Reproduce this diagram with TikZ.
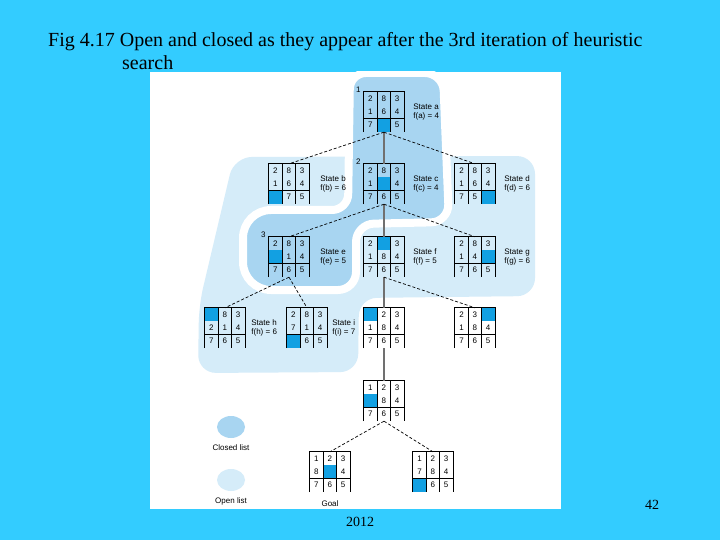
\documentclass[tikz,border=0pt]{standalone}
\usepackage{fontspec}
\setmainfont{Liberation Serif}
\newfontfamily\figfont{Liberation Sans}
\usetikzlibrary{calc,positioning,shapes.geometric}

\definecolor{slidebg}{RGB}{51,204,255}
\definecolor{closedblue}{RGB}{168,213,241}
\definecolor{openblue}{RGB}{213,236,249}
\definecolor{blankblue}{RGB}{18,160,226}
\definecolor{treegray}{RGB}{112,112,112}

% one 8-puzzle board: name, centre, nine tiles (0 = blank)
\newcommand{\puzzle}[3]{%
  \node[board] (#1) at (#2) {};
  \foreach \pz [count=\k from 0] in {#3} {
    \pgfmathtruncatemacro{\prow}{int(\k/3)}
    \pgfmathtruncatemacro{\pcol}{mod(\k,3)}
    \ifnum\pz=0
      \fill[blank] ($(#1.north west)+(\pcol*13.33,\prow*13.33)$) rectangle +(13.33,13.33);
    \else
      \node[tile] (#1-\k) at ($(#1.north west)+(\pcol*13.33+6.67,\prow*13.33+6.67)$) {\pz};
    \fi
  }
  \draw[gridline] (#1.south west) -- (#1.north west) -- (#1.north east) -- (#1.south east)
    ($(#1.north west)+(13.33,0)$) -- +(0,40)
    ($(#1.north west)+(26.67,0)$) -- +(0,40)
    ($(#1.north west)+(0,26.67)$) -- +(40,0);
}

\begin{document}
\begin{tikzpicture}[x=1pt, y=-1pt,
  board/.style={rectangle, inner sep=0pt, minimum size=40pt},
  tile/.style={inner sep=0pt, font=\figfont\fontsize{8}{9}\selectfont},
  blank/.style={fill=blankblue},
  gridline/.style={line width=0.8pt},
  statetxt/.style={align=left, inner sep=0pt, font=\figfont\fontsize{8}{9}\selectfont},
  keytxt/.style={inner sep=0pt, font=\figfont\fontsize{8}{9}\selectfont},
  keyblob/.style={ellipse, inner sep=0pt, minimum width=28pt, minimum height=22pt},
  solidedge/.style={treegray, line width=1.5pt},
  dashedge/.style={line width=0.7pt, dash pattern=on 3pt off 2pt},
  slidetxt/.style={inner sep=0pt, anchor=base west}]

\useasboundingbox (0,0) rectangle (720,540);
\fill[slidebg] (0,0) rectangle (720,540);
\fill[white] (150,72) rectangle (561,509);

%Lists
\begin{scope}
\clip (150,72) rectangle (561,509);
\fill[openblue, rounded corners=18pt] (234,157) -- (535,156) -- (535,296) -- (359,298) -- (358,372) -- (198,373) -- (199,305) -- cycle;
\filldraw[fill=closedblue, draw=white, line width=8pt, rounded corners=18pt] (350,73) -- (443,73) -- (449,222) -- (356,224) -- (356,290) [rounded corners=28pt] -- (243,290) -- (243,210) [rounded corners=16pt] -- (348,210) -- cycle;
\end{scope}
\node[keyblob, fill=closedblue] (closedkey) at (231,427) {};
\node[keytxt, below=6pt of closedkey] (closedtxt) {Closed list};
\node[keyblob, fill=openblue] (openkey) at (231,480) {};
\node[keytxt, below=6pt of openkey] (opentxt) {Open list};

%Nodes
\puzzle{sa}{384,112}{2,8,3,1,6,4,7,0,5}
\puzzle{sb}{289,184}{2,8,3,1,6,4,0,7,5}
\puzzle{sc}{384,184}{2,8,3,1,0,4,7,6,5}
\puzzle{sd}{475,184}{2,8,3,1,6,4,7,5,0}
\puzzle{se}{289,257}{2,8,3,0,1,4,7,6,5}
\puzzle{sf}{384,257}{2,0,3,1,8,4,7,6,5}
\puzzle{sg}{475,257}{2,8,3,1,4,0,7,6,5}
\puzzle{sh}{225,328}{0,8,3,2,1,4,7,6,5}
\puzzle{si}{307,328}{2,8,3,7,1,4,0,6,5}
\puzzle{sj}{384,328}{0,2,3,1,8,4,7,6,5}
\puzzle{sk}{475,328}{2,3,0,1,8,4,7,6,5}
\puzzle{sl}{384,401}{1,2,3,0,8,4,7,6,5}
\puzzle{goal}{330,472}{1,2,3,8,0,4,7,6,5}
\puzzle{sm}{433,472}{1,2,3,7,8,4,0,6,5}

\node[statetxt, right=9pt of sa]  (tsa) {State a\\f(a) = 4};
\node[statetxt, right=11pt of sb] (tsb) {State b\\f(b) = 6};
\node[statetxt, right=9pt of sc]  (tsc) {State c\\f(c) = 4};
\node[statetxt, right=9pt of sd]  (tsd) {State d\\f(d) = 6};
\node[statetxt, right=11pt of se] (tse) {State e\\f(e) = 5};
\node[statetxt, right=9pt of sf]  (tsf) {State f\\f(f) = 5};
\node[statetxt, right=9pt of sg]  (tsg) {State g\\f(g) = 6};
\node[statetxt, right=6pt of sh]  (tsh) {State h\\f(h) = 6};
\node[statetxt, right=5pt of si]  (tsi) {State i\\f(i) = 7};
\node[keytxt, below=8pt of goal]  (tgoal) {Goal};

\node[keytxt, left=3pt of sa.north west, yshift=2pt] (na) {1};
\node[keytxt, left=3pt of sc.north west, yshift=2pt] (nc) {2};
\node[keytxt, left=3pt of se.north west, yshift=2pt] (ne) {3};

%Lines
\draw[solidedge] (sa.south) -- (sc.north);
\draw[solidedge] (sc.south) -- (sf.north);
\draw[solidedge] (sf.south) -- (sj.north);
\draw[solidedge] (sj.south) -- (sl.north);
\draw[dashedge] (sa.south) -- (sb.north);
\draw[dashedge] (sa.south) -- (sd.north);
\draw[dashedge] (sc.south) -- (se.north);
\draw[dashedge] (sc.south) -- (sg.north);
\draw[dashedge] (se.south) -- (sh.north);
\draw[dashedge] (se.south) -- (si.north);
\draw[dashedge] (sf.south) -- (sk.north);
\draw[dashedge] (sl.south) -- (goal.north);
\draw[dashedge] (sl.south) -- (sm.north);

%Slide text
\node[slidetxt, font=\fontsize{20}{24}\selectfont] (title) at (48,47) {Fig 4.17 Open and closed as they appear after the 3rd iteration of heuristic};
\node[slidetxt, font=\fontsize{20}{24}\selectfont] (titlemore) at (122,70) {search};
\node[slidetxt, anchor=base, font=\fontsize{14}{16}\selectfont] (year) at (360,526) {2012};
\node[slidetxt, anchor=base, font=\fontsize{14}{16}\selectfont] (page) at (652,509) {42};

\end{tikzpicture}
\end{document}
